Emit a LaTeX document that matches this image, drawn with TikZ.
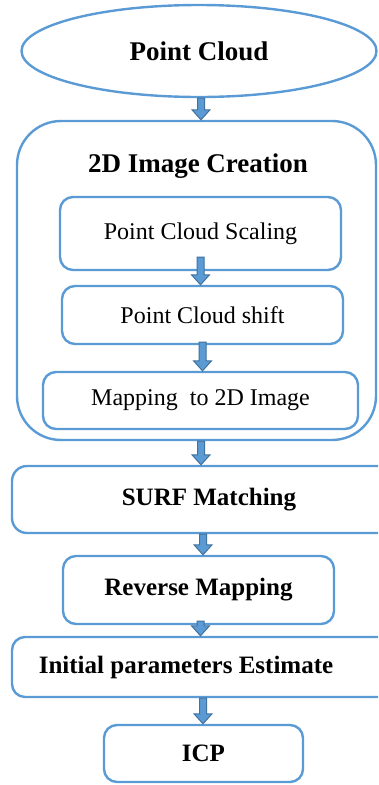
\documentclass[tikz,border=0pt]{standalone}
\usepackage{fontspec}
\setmainfont{Liberation Serif}
\usetikzlibrary{shapes.geometric,calc}
\definecolor{edgeblue}{HTML}{5B9BD5}
\definecolor{arrowfill}{HTML}{5B9BD5}
\definecolor{arrowedge}{HTML}{41719C}
\tikzset{
  box/.style={draw=edgeblue, line width=2.4pt, rounded corners=13pt, fill=white,
              inner sep=0pt, font=\fontsize{24}{28}\selectfont},
  boldbox/.style={box, font=\fontsize{25}{29}\selectfont\bfseries},
  % vertical block arrow from the start point down to the target's height
  blockarrow/.style={fill=arrowfill, draw=arrowedge, line width=1pt, line join=miter,
    to path={let \p1=(\tikztostart), \p2=(\tikztotarget) in
      (\x1-3.5pt,\y1) -- (\x1-3.5pt,\y2+10pt) -- (\x1-9pt,\y2+10pt) -- (\x1,\y2)
      -- (\x1+9pt,\y2+10pt) -- (\x1+3.5pt,\y2+10pt) -- (\x1+3.5pt,\y1) -- cycle}},
}
\begin{document}
\begin{tikzpicture}[x=1pt,y=-1pt]
  \useasboundingbox (0,0) rectangle (378,785);
  \begin{scope}
  \clip (0,0) rectangle (378,785);

  % input
  \node[draw=edgeblue, line width=2.4pt, ellipse, inner sep=0pt,
        minimum width=355pt, minimum height=92pt,
        font=\fontsize{27}{31}\selectfont\bfseries] (pc) at (199,51) {Point Cloud};

  % 2D image creation group
  \node[box, rounded corners=44pt, minimum width=359pt, minimum height=319pt]
        (grp) at (196.5,280.5) {};
  \node[font=\fontsize{27}{31}\selectfont\bfseries] (grpt) at (198,166) {2D Image Creation};
  \node[box, minimum width=281pt, minimum height=73pt] (scl) at (200.5,233.5) {Point Cloud Scaling};
  \node[box, minimum width=281pt, minimum height=58pt] (sft) at (202.5,315) {Point Cloud shift};
  \node[box, minimum width=315pt, minimum height=57pt] (map) at (200.5,400.5) {Mapping\ \ to 2D Image};

  % matching and registration
  \node[boldbox, rounded corners=15pt, minimum width=394pt, minimum height=67pt] (surf) at (209,499.5) {SURF Matching};
  \node[boldbox, minimum width=271pt, minimum height=68pt] (rev) at (198.5,590) {Reverse Mapping};
  \node[boldbox, minimum width=388pt, minimum height=60pt,
        label={[font=\fontsize{25}{29}\selectfont\bfseries, xshift=-20pt]center:Initial parameters Estimate}]
        (init) at (206,667) {};
  \node[boldbox, minimum width=199pt, minimum height=57pt] (icp) at (203.5,753.5) {ICP};

  % block arrows (some shafts start inside the box above)
  \draw[blockarrow] ([xshift=2pt]pc.south) to ([xshift=2pt]pc.south |- grp.north);
  \draw[blockarrow] ([yshift=14pt]scl.south) to (scl.south |- sft.north);
  \draw[blockarrow] ([yshift=3pt]sft.south) to (sft.south |- map.north);
  \draw[blockarrow] ([xshift=4.5pt]grp.south) to ([xshift=4.5pt]grp.south |- surf.north);
  \draw[blockarrow] ([xshift=-6pt]surf.south) to ([xshift=-6pt]surf.south |- rev.north);
  \draw[blockarrow] ([xshift=2pt,yshift=4pt]rev.south) to ([xshift=2pt]rev.south |- init.north);
  \draw[blockarrow] ([xshift=-3pt]init.south) to ([xshift=-3pt]init.south |- icp.north);
  \end{scope}
\end{tikzpicture}
\end{document}
